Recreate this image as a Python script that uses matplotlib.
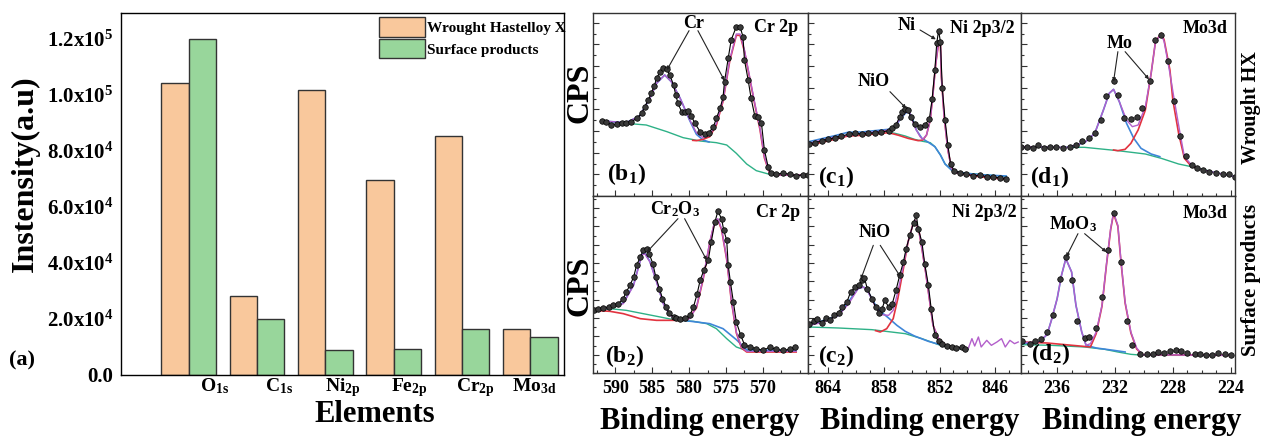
import numpy as np
import matplotlib
matplotlib.use("Agg")
import matplotlib.pyplot as plt
from matplotlib.ticker import MultipleLocator, FixedLocator, FuncFormatter

plt.rcParams.update({
    "font.family": "Liberation Serif",
    "font.weight": "bold",
    "mathtext.fontset": "custom",
    "mathtext.rm": "Liberation Serif:bold",
    "mathtext.it": "Liberation Serif:bold",
    "mathtext.bf": "Liberation Serif:bold",
    "axes.linewidth": 1.0,
})

# ---------------- (a) bar chart data ----------------
elements = [r"$\mathregular{O_{1s}}$", r"$\mathregular{C_{1s}}$", r"$\mathregular{Ni_{2p}}$",
            r"$\mathregular{Fe_{2p}}$", r"$\mathregular{Cr_{2p}}$", r"$\mathregular{Mo_{3d}}$"]
wrought = [1.042e5, 2.82e4, 1.018e5, 6.96e4, 8.54e4, 1.63e4]
surface = [1.20e5, 1.99e4, 8.9e3, 9.2e3, 1.65e4, 1.35e4]

# ---------------- XPS spectra (binding energy eV, counts a.u.) ----------------
# b1: Cr 2p, wrought
b1_raw_e = [591.8, 591.2, 590.5, 589.8, 589.1, 588.5, 587.8, 587.1, 586.4, 586.0, 585.5, 585.1, 584.7, 584.4,
            583.9, 583.5, 583.0, 582.6, 582.1, 581.8, 581.5, 581.0, 580.6, 580.1, 579.7, 579.2, 578.5, 577.9,
            577.3, 576.7, 576.3, 575.8, 575.4, 575.2, 574.7, 574.3, 573.6, 573.1, 572.7, 572.5, 572.0, 571.6,
            571.1, 570.7, 570.2, 569.8, 569.3, 568.9, 568.2, 567.3, 566.4, 565.5, 564.6, 563.9]
b1_raw_i = [226, 223, 213, 216, 220, 220, 222, 233, 248, 268, 288, 310, 330, 353, 373, 383, 380, 363, 333, 303,
            278, 253, 253, 256, 240, 218, 193, 186, 190, 208, 233, 263, 296, 343, 413, 468, 508, 508, 478, 408,
            348, 293, 240, 238, 218, 138, 88, 68, 66, 68, 66, 60, 64, 64]
b1_env_e = [591.8, 588.5, 586.7, 585.3, 584.4, 583.3, 582.4, 581.2, 579.9, 579.0, 578.1, 577.2, 576.3, 575.4,
            574.5, 573.6, 573.1, 572.5, 571.8, 571.1, 570.4, 569.8, 569.1, 568.2, 563.9]
b1_env_i = [225, 220, 240, 293, 338, 363, 343, 293, 228, 190, 175, 183, 218, 288, 408, 486, 486, 438, 358, 278,
            203, 118, 70, 63, 63]
b1_blue_e = [591.8, 588.5, 586.7, 585.3, 584.4, 583.3, 582.4, 581.2, 579.9, 579.0, 578.1, 577.3]
b1_blue_i = [225, 220, 240, 293, 338, 363, 343, 293, 226, 185, 168, 162]
b1_red_e = [579.5, 579.0, 578.1, 577.2, 576.3, 575.4, 574.5, 573.6, 573.1, 572.5, 571.8, 571.1, 570.4, 569.8,
            569.1, 568.2, 563.9]
b1_red_i = [167, 166, 170, 178, 213, 284, 404, 482, 482, 434, 354, 274, 199, 114, 68, 63, 63]
b1_bg_e = [591.8, 588.5, 585.8, 583.0, 580.8, 578.5, 576.3, 574.9, 573.6, 572.2, 570.9, 569.1, 563.9]
b1_bg_i = [225, 218, 213, 193, 175, 165, 160, 153, 128, 96, 76, 65, 63]

# c1: Ni 2p3/2, wrought
c1_raw_e = [866.1, 865.4, 864.7, 864.0, 863.3, 862.6, 861.8, 861.1, 860.4, 859.7, 859.0, 858.3, 857.5, 857.1,
            856.7, 856.3, 856.0, 855.7, 855.4, 855.1, 854.7, 854.1, 853.6, 853.1, 852.8, 852.5, 852.3, 852.1,
            851.9, 851.7, 851.4, 851.1, 850.8, 850.4, 849.8, 849.1, 848.4, 847.6, 846.9, 846.2, 845.5, 844.8]
c1_raw_i = [156, 160, 166, 170, 175, 180, 185, 188, 186, 188, 190, 192, 196, 203, 213, 238, 253, 261, 258, 238,
            215, 208, 213, 230, 290, 378, 458, 496, 463, 323, 228, 153, 96, 75, 70, 66, 61, 62, 58, 56, 55, 51]
c1_env_e = [866.1, 863.3, 860.4, 859.0, 857.5, 856.8, 856.1, 855.6, 855.2, 854.7, 854.1, 853.8, 853.4, 853.0,
            852.7, 852.4, 852.1, 851.9, 851.8, 851.5, 851.1, 850.7, 850.0, 844.8]
c1_env_i = [158, 177, 188, 192, 198, 210, 238, 253, 248, 208, 178, 170, 183, 228, 308, 398, 463, 458, 358, 238,
            138, 82, 68, 53]
c1_blue_e = [866.1, 864.7, 863.3, 861.9, 860.4, 859.0, 857.5, 856.8, 856.3, 855.7, 855.4, 855.0, 854.5, 853.9,
             853.2, 852.5, 851.9, 851.4, 850.7, 850.0, 848.5, 847.1, 844.8]
c1_blue_i = [163, 172, 181, 191, 192, 196, 200, 208, 228, 248, 253, 240, 198, 173, 161, 148, 123, 96, 78, 71,
             66, 63, 60]
c1_red_e = [866.1, 864.7, 863.3, 861.9, 860.4, 859.0, 857.5, 856.4, 855.4, 854.3, 853.8, 853.4, 853.0, 852.7,
            852.4, 852.1, 851.9, 851.8, 851.5, 851.1, 850.7, 850.0, 848.5, 847.1, 844.8]
c1_red_i = [152, 161, 170, 180, 182, 186, 190, 182, 173, 166, 168, 183, 228, 308, 398, 458, 453, 358, 238, 138,
            83, 68, 61, 56, 50]
c1_bg_e = [866.1, 864.0, 861.9, 859.7, 857.9, 856.8, 855.7, 854.7, 853.8, 853.0, 852.5, 851.9, 851.4, 850.7,
           850.0, 848.9, 844.8]
c1_bg_i = [154, 168, 183, 186, 193, 188, 180, 170, 164, 160, 148, 123, 96, 78, 71, 68, 58]

# d1: Mo 3d, wrought
d1_raw_e = [238.5, 238.1, 237.7, 237.3, 236.9, 236.5, 236.1, 235.6, 235.1, 234.7, 234.3, 233.8, 233.4, 233.0,
            232.6, 232.1, 231.8, 231.4, 230.9, 230.5, 230.1, 229.6, 229.2, 228.8, 228.3, 227.9, 227.5, 227.1,
            226.7, 226.3, 225.9, 225.5, 225.0, 224.5, 224.1, 223.7]
d1_raw_i = [148, 146, 143, 153, 145, 148, 146, 143, 148, 153, 165, 173, 190, 228, 300, 346, 303, 233, 230, 238,
            263, 345, 468, 483, 406, 286, 181, 121, 93, 83, 78, 73, 70, 65, 65, 56]
d1_env_e = [238.5, 235.3, 234.1, 233.4, 232.8, 232.4, 232.1, 231.7, 231.2, 230.8, 230.4, 229.9, 229.5, 229.2,
            228.8, 228.6, 228.2, 227.9, 227.5, 227.2, 226.7, 226.1, 223.7]
d1_env_i = [148, 146, 160, 188, 258, 308, 320, 283, 228, 208, 213, 268, 368, 463, 486, 463, 368, 288, 188, 118,
            93, 80, 58]
d1_blue_e = [235.3, 234.1, 233.4, 232.8, 232.4, 232.1, 231.7, 231.2, 230.7, 230.2, 229.5, 228.9]
d1_blue_i = [146, 160, 188, 258, 308, 320, 283, 218, 173, 143, 126, 118]
d1_red_e = [232.1, 231.8, 231.3, 230.9, 230.4, 229.9, 229.5, 229.2, 228.8, 228.6, 228.2, 228.0, 227.6,
            227.2, 226.7, 226.3]
d1_red_i = [138, 136, 140, 158, 198, 258, 368, 463, 488, 468, 378, 288, 188, 113, 88, 84]
d1_bg_e = [238.5, 236.4, 234.1, 231.8, 229.9, 228.8, 227.6, 226.5, 225.3, 223.7]
d1_bg_i = [148, 146, 146, 136, 126, 113, 96, 86, 73, 58]

# b2: Cr 2p, surface products
b2_raw_e = [592.9, 592.3, 591.6, 590.9, 590.3, 589.6, 588.9, 588.5, 588.0, 587.5, 587.1, 586.6, 586.2, 585.7,
            585.4, 584.9, 584.5, 584.0, 583.6, 583.1, 582.7, 582.1, 581.7, 581.2, 580.6, 579.9, 579.4, 578.9,
            578.5, 578.0, 577.4, 577.0, 576.5, 576.1, 575.6, 575.3, 574.9, 574.7, 574.4, 574.0, 573.6, 573.0,
            572.5, 571.8, 570.9, 570.0, 569.1, 568.2, 567.3, 566.4, 565.6]
b2_raw_i = [188, 193, 195, 198, 203, 208, 223, 243, 263, 288, 323, 348, 368, 373, 358, 328, 288, 253, 223, 198,
            181, 168, 165, 163, 165, 173, 198, 238, 278, 308, 338, 393, 453, 485, 463, 428, 398, 323, 273, 213,
            153, 113, 85, 78, 73, 68, 77, 71, 68, 71, 77]
b2_env_e = [592.9, 590.7, 588.9, 587.5, 586.4, 586.0, 585.3, 584.4, 583.5, 582.6, 581.7, 580.8, 579.9, 579.0,
            578.1, 577.2, 576.5, 576.1, 575.6, 574.9, 574.3, 573.6, 572.9, 572.2, 565.5]
b2_env_i = [188, 195, 208, 263, 353, 358, 333, 273, 208, 173, 163, 158, 163, 198, 283, 393, 458, 463, 433, 343,
            223, 123, 78, 65, 65]
b2_blue_e = [592.9, 590.7, 588.9, 587.5, 586.4, 586.0, 585.3, 584.4, 583.5, 582.6, 581.7, 580.8, 579.0, 577.2,
             575.4, 573.6, 572.2, 565.5]
b2_blue_i = [190, 197, 210, 265, 355, 360, 335, 275, 210, 175, 163, 158, 153, 148, 133, 100, 70, 66]
b2_red_e = [592.9, 590.7, 588.9, 586.6, 584.4, 582.1, 580.3, 579.0, 578.1, 577.2, 576.5, 576.1, 575.6, 574.9,
            574.3, 573.6, 572.9, 572.2, 565.5]
b2_red_i = [188, 185, 178, 163, 158, 158, 158, 195, 280, 390, 455, 460, 430, 340, 220, 120, 75, 63, 63]
b2_bg_e = [592.9, 590.7, 588.5, 586.2, 583.9, 581.7, 579.4, 577.6, 576.3, 574.9, 573.6, 572.2, 565.5]
b2_bg_i = [188, 193, 188, 178, 168, 158, 155, 148, 133, 103, 78, 67, 65]

# c2: Ni 2p3/2, surface products
c2_raw_e = [866.1, 865.6, 865.2, 864.7, 864.3, 863.8, 863.4, 862.9, 862.5, 862.0, 861.6, 861.1, 860.7, 860.4,
            860.1, 859.8, 859.3, 858.9, 858.5, 858.2, 857.9, 857.5, 857.1, 856.7, 856.3, 855.9, 855.6, 855.2,
            854.8, 854.5, 854.3, 853.9, 853.6, 853.2, 852.9, 852.5, 852.1, 851.7, 851.2, 850.7, 850.2, 849.6, 849.2]
c2_raw_i = [148, 155, 161, 151, 165, 158, 173, 181, 198, 213, 243, 258, 265, 278, 285, 253, 223, 198, 181, 193,
            218, 198, 208, 248, 293, 333, 373, 413, 451, 473, 433, 393, 328, 263, 193, 113, 95, 88, 81, 77,
            75, 78, 73]
c2_env_e = [866.1, 864.7, 862.9, 861.8, 860.8, 860.2, 859.7, 859.0, 858.3, 857.5, 857.0, 856.5, 855.9, 855.4,
            854.9, 854.6, 854.2, 853.9, 853.5, 853.1, 852.7, 852.1, 851.4, 850.3, 849.3, 848.9, 848.5, 848.2,
            847.8, 847.5, 846.9, 846.4, 845.8, 845.3, 844.9, 844.4, 843.9, 843.5]
c2_env_i = [143, 151, 173, 208, 253, 258, 243, 203, 175, 173, 188, 243, 323, 393, 443, 458, 423, 373, 303, 223,
            143, 103, 85, 75, 73, 73, 103, 81, 108, 78, 98, 83, 93, 103, 78, 98, 88, 93]
c2_blue_e = [866.1, 862.9, 860.8, 860.2, 859.7, 859.0, 858.3, 857.5, 856.6, 855.7, 854.7, 853.2, 851.4, 849.6]
c2_blue_i = [143, 173, 253, 258, 243, 208, 183, 165, 143, 125, 111, 95, 81, 73]
c2_red_e = [858.9, 858.4, 857.7, 857.0, 856.5, 855.9, 855.4, 854.9, 854.6, 854.2, 853.9, 853.5, 853.1, 852.7,
            852.1, 851.4, 850.3, 849.3]
c2_red_i = [127, 123, 133, 163, 223, 313, 393, 443, 458, 423, 373, 303, 223, 143, 103, 85, 75, 73]
c2_bg_e = [866.1, 862.9, 859.3, 855.7, 853.9, 852.1, 850.3, 848.9]
c2_bg_i = [138, 135, 130, 118, 103, 85, 73, 71]

# d2: Mo 3d, surface products
d2_raw_e = [238.4, 237.9, 237.5, 237.1, 236.7, 236.3, 235.8, 235.4, 235.0, 234.6, 234.1, 233.8, 233.3, 232.9,
            232.5, 232.1, 231.6, 231.2, 230.8, 230.3, 229.8, 229.4, 229.0, 228.6, 228.2, 227.8, 227.4, 227.0,
            226.5, 226.1, 225.7, 225.3, 224.9, 224.4, 224.0]
d2_raw_i = [95, 88, 95, 103, 123, 173, 283, 348, 278, 155, 105, 108, 135, 228, 368, 481, 333, 155, 85, 58,
            58, 58, 63, 61, 65, 68, 66, 60, 56, 58, 53, 53, 60, 56, 53]
d2_env_e = [238.4, 237.3, 236.7, 236.4, 236.0, 235.7, 235.4, 235.0, 234.7, 234.3, 234.0, 233.7, 233.3, 232.9,
            232.6, 232.3, 232.1, 231.8, 231.6, 231.3, 230.9, 230.5, 230.1, 224.0]
d2_env_i = [91, 93, 115, 158, 223, 293, 343, 303, 203, 123, 83, 88, 123, 203, 323, 433, 481, 443, 343, 213,
            123, 75, 55, 53]
d2_blue_e = [238.4, 237.3, 236.7, 236.4, 236.0, 235.7, 235.4, 235.0, 234.7, 234.3, 234.0, 233.3, 232.1, 231.3]
d2_blue_i = [89, 91, 115, 158, 223, 293, 343, 303, 203, 123, 83, 75, 68, 63]
d2_red_e = [238.4, 236.7, 234.7, 233.7, 233.3, 232.9, 232.6, 232.3, 232.1, 231.8, 231.6, 231.3, 230.9, 230.5,
            230.1, 224.0]
d2_red_i = [93, 90, 82, 78, 118, 200, 320, 430, 478, 440, 340, 210, 120, 72, 55, 53]
d2_bg_e = [238.4, 236.4, 234.1, 232.7, 231.8, 230.9, 230.0, 224.0]
d2_bg_i = [85, 83, 78, 71, 63, 56, 53, 53]

ORANGE, GREEN_BAR = "#F9C89C", "#98D69B"
C_ENV, C_BLUE, C_RED, C_BG = "#B35FCB", "#3F86D8", "#E2333F", "#2EB187"

W, H = 1267, 438
fig = plt.figure(figsize=(W / 100, H / 100), dpi=100)

# ---------------------------------------------------------------- (a)
ax = fig.add_axes([120.5 / W, (H - 375) / H, 444 / W, 362 / H])
x = np.arange(1, 7)
ax.bar(x - 0.2, wrought, 0.4, color=ORANGE, edgecolor="#333333", lw=1.0, label="Wrought Hastelloy X")
ax.bar(x + 0.2, surface, 0.4, color=GREEN_BAR, edgecolor="#333333", lw=1.0, label="Surface products")
ax.set_xlim(0, 6.5)
ax.set_ylim(0, 1.293e5)
ax.set_yticks(np.arange(0, 1.21e5, 2e4))
ax.yaxis.set_major_formatter(FuncFormatter(
    lambda v, p: "0.0" if v == 0 else r"$\mathregular{%.1fx10^{%d}}$" % (v / 10 ** int(np.log10(v)), int(np.log10(v)))))
ax.set_xticks(x + np.array([0.38, 0.32, 0.26, 0.23, 0.2, 0.06]))
ax.set_xticklabels(elements)
ax.tick_params(axis="y", length=0, labelsize=15, pad=5)
ax.tick_params(axis="x", length=0, labelsize=14, pad=1)
ax.legend(loc="upper left", bbox_to_anchor=(0.582, 0.988), frameon=False, fontsize=11,
          handlelength=3.0, handleheight=1.6, handletextpad=0.15, labelspacing=0.12,
          borderaxespad=0, borderpad=0)
fig.text(25 / W, 1 - 174 / H, "Instensity(a.u)", rotation=90, fontsize=23, ha="center", va="center")
fig.text(375 / W, (H - 422) / H, "Elements", fontsize=22, ha="center", va="baseline")
fig.text(22 / W, 1 - 360 / H, "(a)", fontsize=16, ha="center", va="center")

# ---------------------------------------------------------------- XPS panels
gs = fig.add_gridspec(2, 3, left=593 / W, right=1235 / W, bottom=(H - 373) / H, top=(H - 13) / H,
                      hspace=0, wspace=0, width_ratios=[215, 213, 214], height_ratios=[183, 177])

panels = [
    (0, 0, (b1_raw_e, b1_raw_i), (b1_env_e, b1_env_i), (b1_blue_e, b1_blue_i), (b1_red_e, b1_red_i), (b1_bg_e, b1_bg_i)),
    (0, 1, (c1_raw_e, c1_raw_i), (c1_env_e, c1_env_i), (c1_blue_e, c1_blue_i), (c1_red_e, c1_red_i), (c1_bg_e, c1_bg_i)),
    (0, 2, (d1_raw_e, d1_raw_i), (d1_env_e, d1_env_i), (d1_blue_e, d1_blue_i), (d1_red_e, d1_red_i), (d1_bg_e, d1_bg_i)),
    (1, 0, (b2_raw_e, b2_raw_i), (b2_env_e, b2_env_i), (b2_blue_e, b2_blue_i), (b2_red_e, b2_red_i), (b2_bg_e, b2_bg_i)),
    (1, 1, (c2_raw_e, c2_raw_i), (c2_env_e, c2_env_i), (c2_blue_e, c2_blue_i), (c2_red_e, c2_red_i), (c2_bg_e, c2_bg_i)),
    (1, 2, (d2_raw_e, d2_raw_i), (d2_env_e, d2_env_i), (d2_blue_e, d2_blue_i), (d2_red_e, d2_red_i), (d2_bg_e, d2_bg_i)),
]
xlims = [(593, 563.9), (866.2, 843.2), (238.5, 223.7)]
xticks = [[590, 585, 580, 575, 570], [864, 858, 852, 846], [236, 232, 228, 224]]
xminor = [2.5, 1.5, 1]
ylims = [549, 531]
ymaj = [65, 55]

axs = {}
for r, c, raw, env, blue, red, bg in panels:
    a = fig.add_subplot(gs[r, c])
    axs[(r, c)] = a
    a.plot(*bg, color=C_BG, lw=1.0)
    a.plot(*blue, color=C_BLUE, lw=1.2)
    a.plot(*red, color=C_RED, lw=1.2)
    a.plot(*env, color=C_ENV, lw=1.0)
    ls = "none" if c == 2 else "-"
    a.plot(*raw, marker="o", ls=ls, color="black", lw=0.8, ms=4.0, mfc="#3a3a3a", mec="black", mew=0.5)
    a.set_xlim(*xlims[c])
    a.set_ylim(0, ylims[r])
    a.xaxis.set_major_locator(FixedLocator(xticks[c]))
    a.xaxis.set_minor_locator(MultipleLocator(xminor[c]))
    a.yaxis.set_major_locator(MultipleLocator(ymaj[r]))
    a.yaxis.set_minor_locator(MultipleLocator(ymaj[r] / 2))
    a.tick_params(which="both", direction="in", top=False, right=False, labelleft=False,
                  labelbottom=(r == 1), labelsize=13, pad=5, color="#333333")
    a.tick_params(which="major", length=4.5, width=0.8)
    a.tick_params(which="minor", length=2.5, width=0.8)
    for s in a.spines.values():
        s.set_color("#333333")

def note(a, label, tx, ty, starts, ends):
    a.text(tx, ty, label, fontsize=13, ha="center", va="center")
    for (sx, sy), (ex, ey) in zip(starts, ends):
        a.annotate("", xy=(ex, ey), xytext=(sx, sy),
                   arrowprops=dict(arrowstyle="-|>", lw=0.8, color="#222222", mutation_scale=5,
                                   shrinkA=0, shrinkB=0))

note(axs[(0, 0)], "Cr", 579.4, 516, [(580.0, 496), (578.8, 496)], [(583.0, 378), (575.2, 346)])
note(axs[(0, 1)], "Ni", 855.55, 513, [(854.1, 498)], [(852.4, 470)])
note(axs[(0, 1)], "NiO", 859.15, 343, [(857.35, 313)], [(855.6, 263)])
note(axs[(0, 2)], "Mo", 231.7, 458, [(231.8, 433), (231.3, 433)], [(232.1, 343), (229.65, 350)])
note(axs[(1, 0)], r"$\mathregular{Cr_2O_3}$", 581.9, 493, [(581.5, 463), (580.6, 463)], [(585.7, 363), (577.6, 338)])
note(axs[(1, 1)], "NiO", 859.0, 423, [(859.15, 383), (858.4, 383)], [(860.5, 281), (856.2, 288)])
note(axs[(1, 2)], r"$\mathregular{MoO_3}$", 234.9, 448, [(234.56, 418), (234.1, 418)], [(235.37, 348), (232.6, 363)])

titles = {(0, 0): ("Cr 2p", 0.953, 0.966), (0, 1): ("Ni 2p3/2", 0.972, 0.96), (0, 2): ("Mo3d", 0.967, 0.96),
          (1, 0): ("Cr 2p", 0.963, 0.957), (1, 1): ("Ni 2p3/2", 0.98, 0.957), (1, 2): ("Mo3d", 0.967, 0.95)}
for k, (t, tx, ty) in titles.items():
    axs[k].text(tx, ty, t, transform=axs[k].transAxes, fontsize=13, ha="right", va="top")

tags = {(0, 0): ("b", "1", 0.065, 0.05), (0, 1): ("c", "1", 0.047, 0.033), (0, 2): ("d", "1", 0.04, 0.033),
        (1, 0): ("b", "2", 0.056, 0.024), (1, 1): ("c", "2", 0.047, 0.024), (1, 2): ("d", "2", 0.047, 0.034)}
for k, (l, n, tx, ty) in tags.items():
    axs[k].text(tx, ty, r"$\mathregular{(%s_%s)}$" % (l, n), transform=axs[k].transAxes,
                fontsize=17, ha="left", va="bottom")

for xc in (700, 920, 1142):
    fig.text(xc / W, (H - 429) / H, "Binding energy", fontsize=22, ha="center", va="baseline")
for yc in (93, 286):
    fig.text(580 / W, 1 - yc / H, "CPS", rotation=90, fontsize=23, ha="center", va="center")
fig.text(1251 / W, 1 - 108 / H, "Wrought HX", rotation=90, fontsize=14.5, ha="center", va="center")
fig.text(1251 / W, 1 - 280 / H, "Surface products", rotation=90, fontsize=15, ha="center", va="center")

fig.savefig("out.png", dpi=100)
